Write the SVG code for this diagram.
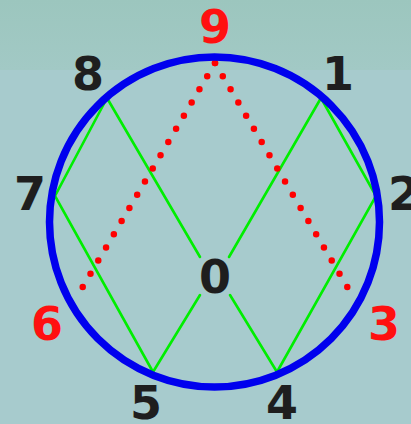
<svg xmlns="http://www.w3.org/2000/svg" width="411" height="424" viewBox="0 0 411 424">
<defs>
<linearGradient id="bgtop" x1="0" y1="0" x2="0" y2="1">
<stop offset="0" stop-color="#9cc6be"/>
<stop offset="1" stop-color="#a2c9c5"/>
</linearGradient>
<style>
.lbl{font-family:"DejaVu Sans","Liberation Sans",sans-serif;font-weight:bold;font-size:46px;text-anchor:middle;fill:#1e1e1e}
.red{fill:#ff1010}
.g{stroke:#00ee00;stroke-width:2.6;fill:none;stroke-linecap:round}
.dots{stroke:#ff0000;stroke-width:6.5;stroke-linecap:round;stroke-dasharray:0 15.3;fill:none}
</style>
</defs>
<rect width="411" height="424" fill="#a7cbcd"/>
<rect width="411" height="70" fill="url(#bgtop)"/>
<g id="connectors">
<path class="g" d="M107,98 L55,196 L153,372"/>
<path class="g" d="M107,98 L200,257"/>
<path class="g" d="M321,98 L376,196 L277,372"/>
<path class="g" d="M321,98 L229,257"/>
<path class="g" d="M153,372 L200,295"/>
<path class="g" d="M277,372 L230,295"/>
<path class="dots" d="M215,63 L75,300"/>
<path class="dots" d="M215,63 L355,300"/>
</g>
<g id="circle">
<circle cx="214.5" cy="222" r="165" fill="none" stroke="#0000ee" stroke-width="7.5"/>
</g>
<g id="n9"><text class="lbl red" x="215" y="43">9</text></g>
<g id="n8"><text class="lbl" x="88" y="90">8</text></g>
<g id="n1"><text class="lbl" x="338" y="90">1</text></g>
<g id="n7"><text class="lbl" x="30" y="210">7</text></g>
<g id="n2"><text class="lbl" x="404" y="210">2</text></g>
<g id="n0"><text class="lbl" x="215" y="293">0</text></g>
<g id="n6"><text class="lbl red" x="47" y="340">6</text></g>
<g id="n3"><text class="lbl red" x="384" y="340">3</text></g>
<g id="n5"><text class="lbl" x="146" y="419">5</text></g>
<g id="n4"><text class="lbl" x="282" y="419">4</text></g>
</svg>
